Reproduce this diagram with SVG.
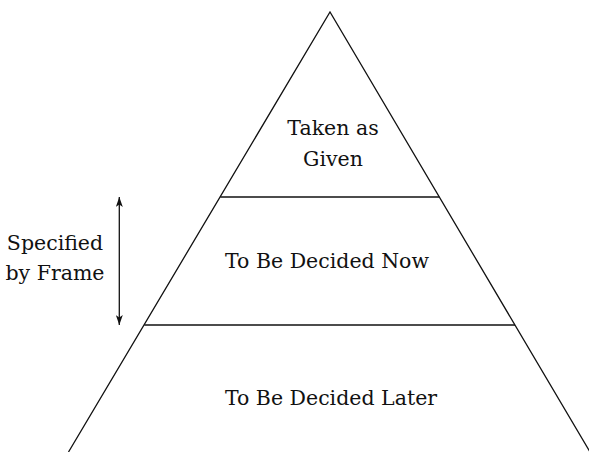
<svg xmlns="http://www.w3.org/2000/svg" width="589" height="452" viewBox="0 0 589 452">
  <style>
    .edge { stroke: #111; stroke-width: 1.3; fill: none; }
    .label { font-family: 'DejaVu Serif', 'Liberation Serif', serif; font-size: 20.5px; fill: #111; text-anchor: middle; }
  </style>
  <defs>
    <marker id="head" viewBox="0 0 10 7" refX="10" refY="3.5" markerWidth="10" markerHeight="7" markerUnits="userSpaceOnUse" orient="auto-start-reverse">
      <path d="M0,0 L10,3.5 L0,7 L2.5,3.5 Z" fill="#111"/>
    </marker>
  </defs>
  <rect width="589" height="452" fill="#fff"/>

  <!-- pyramid outline and tier dividers -->
  <g id="pyramid">
    <path class="edge" d="M68.5,452 L330,12 L590,452"/>
    <line class="edge" x1="220.3" y1="197" x2="439.3" y2="197"/>
    <line class="edge" x1="144.3" y1="325" x2="515" y2="325"/>
  </g>

  <g id="tier-given">
    <text class="label" x="333" y="135">Taken as</text>
    <text class="label" x="333" y="166">Given</text>
  </g>
  <g id="tier-now">
    <text class="label" x="327" y="268">To Be Decided Now</text>
  </g>
  <g id="tier-later">
    <text class="label" x="331" y="405">To Be Decided Later</text>
  </g>
  <g id="frame-label">
    <text class="label" x="55" y="250">Specified</text>
    <text class="label" x="55" y="280">by Frame</text>
  </g>

  <!-- span of the frame -->
  <g id="connectors">
    <line class="edge" x1="119.3" y1="197" x2="119.3" y2="325" marker-start="url(#head)" marker-end="url(#head)"/>
  </g>
</svg>
